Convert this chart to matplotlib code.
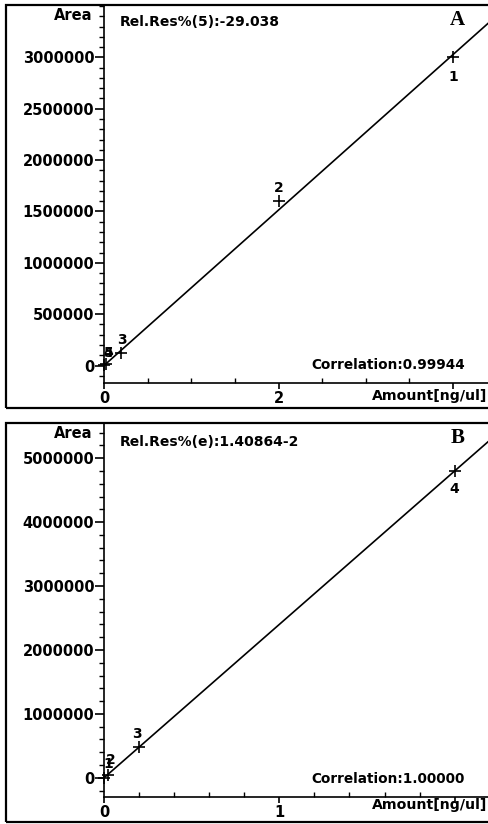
import matplotlib
matplotlib.use("Agg")
import matplotlib.pyplot as plt
from matplotlib.ticker import MultipleLocator, FixedLocator, FixedFormatter
from matplotlib.patches import Rectangle

# ---------------- data ----------------
# Panel A
a_labels = ["1", "2", "3", "4", "5"]
a_amount = [4.0, 2.0, 0.2, 0.02, 0.004]          # ng/ul
a_area = [3000000, 1600000, 125000, 15000, 3000]
a_slope = 757000
a_intercept = 0
a_relres = "Rel.Res%(5):-29.038"
a_corr = "Correlation:0.99944"
a_xticks = [0, 2, 4]
a_xticklabels = ["0", "2", ""]
a_yticks = [0, 500000, 1000000, 1500000, 2000000, 2500000, 3000000]
a_yticklabels = ["0", "500000", "1000000", "1500000", "2000000", "2500000", "3000000"]

# Panel B
b_labels = ["4", "3", "2", "1"]
b_amount = [2.0, 0.2, 0.02, 0.002]
b_area = [4800000, 475000, 48000, 4800]
b_slope = 2400000
b_intercept = 0
b_relres = "Rel.Res%(e):1.40864-2"
b_corr = "Correlation:1.00000"
b_xticks = [0, 1, 2]
b_xticklabels = ["0", "1", ""]
b_yticks = [0, 1000000, 2000000, 3000000, 4000000, 5000000]
b_yticklabels = ["0", "1000000", "2000000", "3000000", "4000000", "5000000"]

W, H = 488, 824
fig = plt.figure(figsize=(W / 100, H / 100), dpi=100)
fig.patch.set_facecolor("white")

FONT = "DejaVu Sans"
SERIF = "Liberation Serif"


def fx(px):
    return px / W


def fy(py):
    return 1 - py / H


def make_panel(top, bottom, frame_bottom, xlim, ylim, xmajor, xminor, xlabels,
               yticks, ylabels, yminor, amounts, areas, labels, label_offsets,
               slope, intercept):
    # outer frame
    fig.add_artist(Rectangle((fx(6), fy(frame_bottom)), fx(500) - fx(6),
                             fy(top) - fy(frame_bottom), transform=fig.transFigure,
                             fill=False, lw=1.6, ec="black", clip_on=False))
    ax = fig.add_axes([fx(104), fy(bottom), fx(488) - fx(104), fy(top) - fy(bottom)])
    ax.set_xlim(*xlim)
    ax.set_ylim(*ylim)
    for s in ["top", "right"]:
        ax.spines[s].set_visible(False)
    for s in ["left", "bottom"]:
        ax.spines[s].set_linewidth(1.2)

    ax.xaxis.set_major_locator(FixedLocator(xmajor))
    ax.xaxis.set_major_formatter(FixedFormatter(xlabels))
    ax.xaxis.set_minor_locator(MultipleLocator(xminor))
    ax.yaxis.set_major_locator(FixedLocator(yticks))
    ax.yaxis.set_major_formatter(FixedFormatter(ylabels))
    ax.yaxis.set_minor_locator(MultipleLocator(yminor))
    ax.tick_params(axis="x", which="major", direction="out", length=4, width=1.2,
                   pad=1.5, labelsize=10.5)
    ax.tick_params(axis="x", which="minor", direction="in", length=3.5, width=1.0)
    ax.tick_params(axis="y", which="major", direction="out", length=6.5, width=1.2,
                   pad=0.5, labelsize=10.5)
    ax.tick_params(axis="y", which="minor", direction="out", length=3.5, width=1.0)
    for t in ax.get_xticklabels() + ax.get_yticklabels():
        t.set_fontweight("bold")
        t.set_fontfamily(FONT)

    # fit line
    xs = [0, xlim[1]]
    ys = [slope * x + intercept for x in xs]
    ax.plot(xs, ys, color="black", lw=1.2, clip_on=True)
    # points
    ax.plot(amounts, areas, linestyle="none", marker="+", ms=9, mew=1.2,
            color="black", clip_on=False)
    for x, y, lab, off in zip(amounts, areas, labels, label_offsets):
        ax.annotate(lab, (x, y), xytext=off, textcoords="offset points",
                    ha="center", va="center", fontsize=10, fontweight="bold",
                    fontfamily=FONT)
    return ax


# Panel A
make_panel(5, 383, 408, (0, 4.4), (-170000, 3510000), a_xticks, 0.5, a_xticklabels,
           a_yticks, a_yticklabels, 100000, a_amount, a_area, a_labels,
           [(0, -14), (0, 9.5), (0, 9.5), (2, 8), (3, 8.5)],
           a_slope, a_intercept)

fig.text(fx(92), fy(16), "Area", ha="right", va="center", fontsize=10.5,
         fontweight="bold", fontfamily=FONT)
fig.text(fx(120), fy(22), a_relres, ha="left", va="center", fontsize=10,
         fontweight="bold", fontfamily=FONT)
fig.text(fx(457), fy(20), "A", ha="center", va="center", fontsize=15,
         fontweight="bold", fontfamily=SERIF)
fig.text(fx(465), fy(365), a_corr, ha="right", va="center", fontsize=9.8,
         fontweight="bold", fontfamily=FONT)
fig.text(fx(487), fy(396), "Amount[ng/ul]", ha="right", va="center", fontsize=10.2,
         fontweight="bold", fontfamily=FONT)

# Panel B
make_panel(423, 797, 822, (0, 2.19), (-300000, 5550000), b_xticks, 0.2, b_xticklabels,
           b_yticks, b_yticklabels, 200000, b_amount, b_area, b_labels,
           [(0, -13), (-1.5, 9.5), (2.5, 10.5), (3, 9.5)],
           b_slope, b_intercept)

fig.text(fx(92), fy(433), "Area", ha="right", va="center", fontsize=10.5,
         fontweight="bold", fontfamily=FONT)
fig.text(fx(120), fy(442), b_relres, ha="left", va="center", fontsize=10,
         fontweight="bold", fontfamily=FONT)
fig.text(fx(458), fy(438), "B", ha="center", va="center", fontsize=15,
         fontweight="bold", fontfamily=SERIF)
fig.text(fx(465), fy(779), b_corr, ha="right", va="center", fontsize=9.8,
         fontweight="bold", fontfamily=FONT)
fig.text(fx(487), fy(805), "Amount[ng/ul]", ha="right", va="center", fontsize=10.2,
         fontweight="bold", fontfamily=FONT)

fig.savefig("out.png", dpi=100, facecolor="white")
